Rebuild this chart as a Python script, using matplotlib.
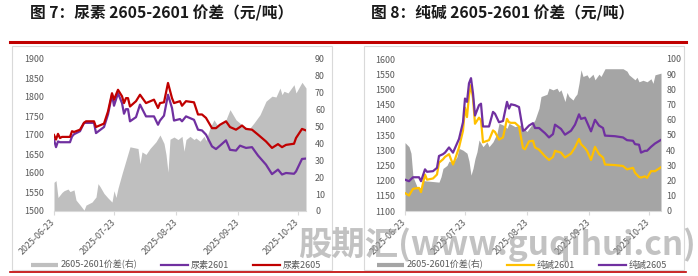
import matplotlib
matplotlib.use('Agg')
import matplotlib.pyplot as plt
import matplotlib.dates as mdates
import pandas as pd
from matplotlib.patches import Rectangle
from matplotlib.lines import Line2D

plt.rcParams['font.family'] = ['Noto Sans CJK SC', 'DejaVu Sans']

# ---------------- 图7 尿素 ----------------
urea_spread_dates = ['06-23', '06-24', '06-25', '06-27', '06-28', '06-30', '07-01', '07-03', '07-04', '07-06',
                     '07-08', '07-09', '07-12', '07-14', '07-15', '07-16', '07-18', '07-20', '07-22', '07-23',
                     '07-24', '07-25', '07-27', '07-29', '07-31', '08-04', '08-05', '08-06', '08-08', '08-10',
                     '08-13', '08-15', '08-17', '08-18', '08-19', '08-20', '08-22', '08-24', '08-26', '08-27',
                     '08-28', '08-30', '09-01', '09-02', '09-04', '09-06', '09-07', '09-09', '09-11', '09-13',
                     '09-15', '09-17', '09-19', '09-21', '09-22', '09-24', '09-26', '09-29', '10-01', '10-04',
                     '10-07', '10-10', '10-12', '10-14', '10-15', '10-16', '10-18', '10-21', '10-22', '10-25',
                     '10-27']
urea_spread = [17, 18, 8, 11, 12, 13, 11.5, 12.5, 6.5, 3.6,
               0.5, 3.5, 5.3, 8.3, 16.2, 14.5, 10.4, 7.7, 5.3, 12,
               8, 13.5, 22, 30, 38, 37, 28, 35, 33.5, 37,
               41, 45, 40, 33.5, 23, 42.5, 43.8, 42.3, 44.2, 35.4,
               42.3, 44.2, 42.3, 43.2, 41.3, 44.2, 41.8, 49.2, 54, 50.2,
               52.1, 54.1, 60, 56, 54, 52, 49.8, 49.2, 52.1, 57,
               65, 68, 67.5, 72.8, 68.9, 70.9, 69.9, 74.8, 69.9, 76.2,
               72.8]
urea_dates = ['06-23', '06-24', '06-25', '06-26', '06-27', '07-01', '07-02', '07-03', '07-06', '07-08',
              '07-09', '07-13', '07-14', '07-18', '07-20', '07-22', '07-23', '07-25', '07-27', '07-28',
              '07-29', '07-30', '07-31', '08-03', '08-05', '08-08', '08-12', '08-14', '08-15', '08-17',
              '08-19', '08-21', '08-22', '08-25', '08-26', '08-28', '09-01', '09-03', '09-05', '09-07',
              '09-10', '09-12', '09-14', '09-17', '09-19', '09-22', '09-24', '09-25', '09-27', '09-30',
              '10-03', '10-07', '10-10', '10-13', '10-15', '10-17', '10-21', '10-22', '10-25', '10-27']
urea_2605 = [1700, 1688, 1703, 1692, 1695, 1695, 1710, 1708, 1714, 1732,
             1736, 1736, 1721, 1730, 1762, 1810, 1793, 1819, 1802, 1784,
             1797, 1797, 1775, 1789, 1806, 1784, 1793, 1771, 1784, 1786,
             1837, 1797, 1784, 1789, 1777, 1789, 1786, 1754, 1754, 1745,
             1718, 1718, 1727, 1736, 1721, 1714, 1721, 1725, 1716, 1714,
             1701, 1683, 1666, 1676, 1668, 1674, 1677, 1692, 1716, 1712]
urea_2601 = [1688, 1668, 1683, 1681, 1681, 1681, 1696, 1702, 1710, 1732,
             1732, 1732, 1705, 1721, 1754, 1806, 1777, 1810, 1784, 1756,
             1768, 1768, 1736, 1747, 1780, 1749, 1749, 1727, 1738, 1751,
             1806, 1771, 1738, 1742, 1736, 1749, 1740, 1714, 1712, 1701,
             1670, 1663, 1672, 1686, 1661, 1659, 1672, 1670, 1666, 1668,
             1646, 1622, 1597, 1609, 1596, 1600, 1598, 1604, 1637, 1638]

# ---------------- 图8 纯碱 ----------------
soda_spread_dates = ['06-23', '06-25', '06-26', '06-27', '06-29', '07-01', '07-02', '07-10', '07-11', '07-12',
                     '07-14', '07-15', '07-17', '07-19', '07-20', '07-22', '07-24', '07-25', '07-26', '07-27',
                     '07-28', '07-29', '07-30', '08-01', '08-03', '08-04', '08-06', '08-08', '08-09', '08-11',
                     '08-13', '08-14', '08-17', '08-20', '08-22', '08-23', '08-25', '08-27', '08-29', '08-30',
                     '09-02', '09-03', '09-05', '09-07', '09-08', '09-09', '09-11', '09-12', '09-13', '09-15',
                     '09-16', '09-17', '09-18', '09-19', '09-20', '09-22', '09-23', '09-25', '09-26', '09-28',
                     '09-29', '10-01', '10-10', '10-12', '10-13', '10-16', '10-17', '10-18', '10-20', '10-22',
                     '10-23', '10-24', '10-25', '10-26', '10-29']
soda_spread = [45, 42.3, 38, 22.5, 16, 15, 20, 19, 22.5, 28,
               30, 32.8, 31.7, 35.7, 41.2, 40, 38, 32.8, 23.6, 28,
               34.5, 39, 46.7, 42.3, 45.5, 42.3, 45.5, 51.1, 57.7, 56.6,
               54.4, 57.7, 55.5, 56.6, 53.4, 52.3, 56, 60, 67.6, 75.3,
               76.8, 80.8, 79.7, 80.8, 78.4, 79.7, 72, 78, 75.3, 73,
               75.3, 77, 84, 92.9, 88.5, 89.6, 87.4, 90, 86.3, 90,
               88.5, 93.6, 93.6, 92, 89.6, 86.3, 88, 85, 86, 85,
               86, 87, 84, 89.6, 90.7]
soda_dates = ['06-23', '06-25', '06-27', '06-30', '07-01', '07-03', '07-04', '07-07', '07-09', '07-10',
              '07-12', '07-13', '07-15', '07-17', '07-18', '07-20', '07-22', '07-23', '07-24', '07-25',
              '07-26', '07-27', '07-28', '07-30', '07-31', '08-01', '08-04', '08-06', '08-07', '08-09',
              '08-11', '08-13', '08-14', '08-15', '08-17', '08-19', '08-21', '08-22', '08-24', '08-26',
              '08-27', '08-29', '09-01', '09-03', '09-05', '09-06', '09-09', '09-11', '09-14', '09-16',
              '09-18', '09-19', '09-21', '09-22', '09-24', '09-26', '09-28', '09-30', '10-01', '10-06',
              '10-10', '10-12', '10-15', '10-16', '10-18', '10-19', '10-21', '10-22', '10-24', '10-26',
              '10-29']
soda_2605 = [1203, 1198, 1211, 1211, 1198, 1237, 1229, 1231, 1242, 1281,
             1287, 1292, 1309, 1292, 1307, 1337, 1392, 1470, 1459, 1520,
             1537, 1487, 1414, 1448, 1453, 1378, 1378, 1426, 1420, 1392,
             1396, 1459, 1437, 1451, 1448, 1442, 1364, 1367, 1381, 1389,
             1373, 1373, 1356, 1342, 1353, 1384, 1370, 1351, 1364, 1384,
             1418, 1403, 1407, 1392, 1362, 1400, 1381, 1373, 1348, 1346,
             1342, 1333, 1331, 1320, 1318, 1292, 1298, 1298, 1311, 1322,
             1334]
soda_2601 = [1159, 1151, 1173, 1176, 1162, 1220, 1203, 1207, 1220, 1259,
             1270, 1278, 1287, 1253, 1270, 1309, 1364, 1440, 1409, 1480,
             1514, 1470, 1387, 1407, 1398, 1326, 1333, 1365, 1360, 1335,
             1342, 1403, 1392, 1390, 1390, 1378, 1307, 1303, 1329, 1331,
             1309, 1302, 1280, 1268, 1278, 1298, 1292, 1276, 1289, 1309,
             1337, 1320, 1307, 1298, 1268, 1311, 1287, 1276, 1253, 1251,
             1248, 1237, 1242, 1226, 1212, 1210, 1214, 1209, 1231, 1231,
             1244]

tick_dates = ['2025-06-23', '2025-07-23', '2025-08-23', '2025-09-23', '2025-10-23']

RED = '#C00000'
PURPLE = '#7030A0'
YELLOW = '#FFC000'
TXT = '#595959'
GRID = '#D9D9D9'

W, H = 698, 276
fig = plt.figure(figsize=(W / 100, H / 100), dpi=100)


def fx(px):
    return px / W


def fy(py):
    return 1 - py / H


def to_dt(lst):
    return pd.to_datetime(['2025-' + d for d in lst])


def panel(x0, x1, frame_x, title, title_x, sdates, spread, area_color, ldates, lines,
          llim, lticks, rlim, rticks, legend_cx, rpad):
    ax_a = fig.add_axes([fx(x0), fy(211), fx(x1 - x0), 152 / H])
    ax_l = ax_a.twinx()
    ax_a.yaxis.tick_right()
    ax_l.yaxis.tick_left()

    sd = to_dt(sdates)
    ax_a.fill_between(sd, 0, spread, color=area_color, lw=0)
    ld = to_dt(ldates)
    for vals, col, lab in lines:
        ax_l.plot(ld, vals, color=col, lw=1.6, label=lab)

    ax_a.set_xlim(min(sd[0], ld[0]), max(sd[-1], ld[-1]))
    ax_a.set_ylim(*rlim)
    ax_a.set_yticks(rticks)
    ax_l.set_ylim(*llim)
    ax_l.set_yticks(lticks)

    ax_a.set_xticks(pd.to_datetime(tick_dates))
    ax_a.xaxis.set_major_formatter(mdates.DateFormatter('%Y-%m-%d'))
    ax_a.tick_params(axis='x', length=3, color=GRID, labelsize=6.4, labelcolor=TXT, pad=4)
    ax_a.tick_params(axis='y', length=0, labelsize=6.4, labelcolor=TXT, pad=rpad)
    ax_l.tick_params(axis='y', length=0, labelsize=6.4, labelcolor=TXT, pad=7)
    plt.setp(ax_a.get_xticklabels(), rotation=45, ha='right', va='center', rotation_mode='anchor')

    for ax in (ax_a, ax_l):
        for s in ax.spines.values():
            s.set_visible(False)
    ax_a.spines['bottom'].set_visible(True)
    ax_a.spines['bottom'].set_color(GRID)
    ax_a.spines['bottom'].set_linewidth(0.8)

    handles = [Line2D([], [], color=area_color, lw=3, solid_capstyle='butt')]
    labels = ['2605-2601价差(右)']
    for vals, col, lab in lines:
        handles.append(Line2D([], [], color=col, lw=1.6))
        labels.append(lab)
    ax_l.legend(handles, labels, loc='center', bbox_to_anchor=(fx(legend_cx), fy(265)),
                bbox_transform=fig.transFigure, ncol=3, frameon=False, fontsize=6.5,
                handlelength=3.0, handletextpad=0.3, columnspacing=2.6, labelcolor=TXT)

    fig.add_artist(Rectangle((fx(frame_x), fy(270)), fx(320), 224 / H, transform=fig.transFigure,
                             fill=False, edgecolor=GRID, lw=0.8))
    fig.text(fx(title_x), fy(13), title, fontsize=11.3, fontweight='bold', color='#1a1a1a',
             ha='left', va='center')


panel(54, 306, 12, '图 7：尿素 2605-2601 价差（元/吨）', 30,
      urea_spread_dates, urea_spread, '#BFBFBF', urea_dates,
      [(urea_2601, PURPLE, '尿素2601'), (urea_2605, RED, '尿素2605')],
      (1500, 1900), list(range(1500, 1901, 50)), (0, 90), list(range(0, 91, 10)), 176, 6.5)

panel(405, 661, 364, '图 8：纯碱 2605-2601 价差（元/吨）', 371,
      soda_spread_dates, soda_spread, '#A5A5A5', soda_dates,
      [(soda_2601, YELLOW, '纯碱2601'), (soda_2605, PURPLE, '纯碱2605')],
      (1100, 1600), list(range(1100, 1601, 50)), (0, 100), list(range(0, 101, 10)), 522, 3.8)

fig.add_artist(Line2D([fx(10), fx(686)], [fy(42), fy(42)], color=RED, lw=2.2))
fig.add_artist(Line2D([fx(10), fx(686)], [fy(272), fy(272)], color=RED, lw=1.2))

fig.text(fx(298), fy(244), '股期汇(www.guqihui.cn)', fontsize=24, fontweight='bold',
         color='#9a9a9a', alpha=0.6, ha='left', va='center', zorder=10)

fig.savefig('out.png', dpi=100)
